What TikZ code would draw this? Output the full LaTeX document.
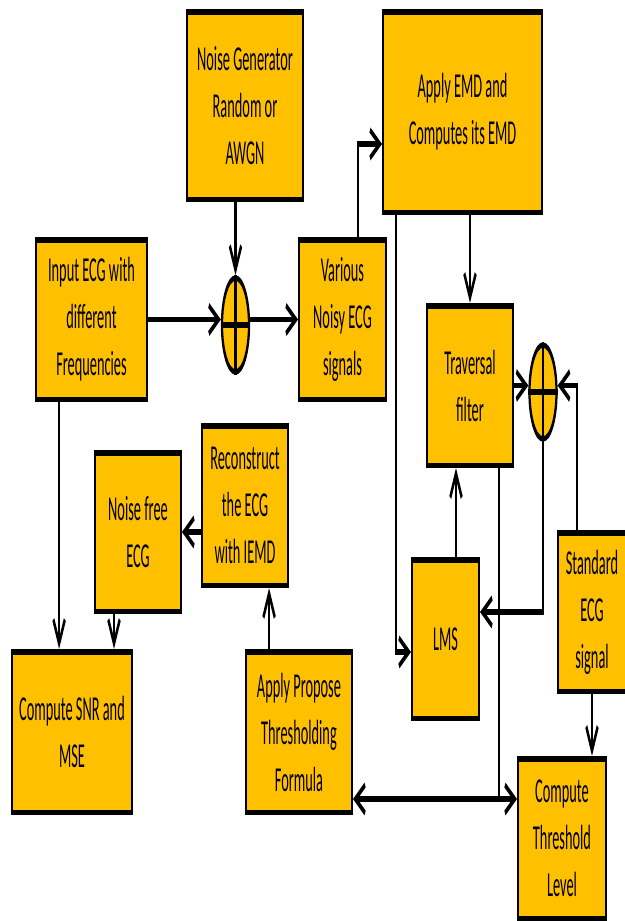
\documentclass[tikz,border=0pt]{standalone}
\usepackage{fontspec}
\setmainfont{Carlito}
\usetikzlibrary{arrows.meta,shapes.geometric}
\definecolor{boxgold}{HTML}{FFC000}

\begin{document}
\begin{tikzpicture}
    \useasboundingbox (0,0) rectangle (624pt,-921pt);
  \begin{scope}[x=2.439pt, y=-1pt, transform canvas={xscale=0.41},
      line width=5.5pt, >={Straight Barb[length=24pt,width=28pt]},
      block/.style={draw, fill=boxgold, align=center, inner sep=0pt,
        font=\fontsize{35}{47}\selectfont},
      adder/.style={draw, fill=boxgold, ellipse, inner sep=0pt,
        minimum width=66pt, minimum height=94pt}]
    % Blocks.
    \node [block, minimum width=282pt, minimum height=187.5pt] (noise) at (245,105.5) {Noise Generator\\Random or\\AWGN};
    \node [block, minimum width=270pt, minimum height=159.5pt] (input) at (91.5,319.5) {Input ECG with\\different\\Frequencies};
    \node [block, minimum width=211.5pt, minimum height=159.5pt] (noisy) at (342.5,319.5) {Various\\Noisy ECG\\signals};
    \node [block, minimum width=387pt, minimum height=200.5pt] (emd) at (462.5,112) {Apply EMD and\\Computes its EMD};
    \node [block, minimum width=209pt, minimum height=159.5pt] (filter) at (470,385.5) {Traversal\\filter};
    \node [block, minimum width=163pt, minimum height=158.5pt] (lms) at (445.5,639) {LMS};
    \node [block, minimum width=165pt, minimum height=158.5pt] (standard) at (592,612) {Standard\\ECG\\signal};
    \node [block, minimum width=214pt, minimum height=159.5pt] (threshold) at (562,838.5) {Compute\\Threshold\\Level};
    \node [block, minimum width=209pt, minimum height=159.5pt] (rebuild) at (245,505.5) {Reconstruct\\the ECG\\with IEMD};
    \node [block, minimum width=209pt, minimum height=158.5pt] (clean) at (138,532) {Noise free\\ECG};
    \node [block, minimum width=292pt, minimum height=160.5pt] (snr) at (72,732) {Compute SNR and\\MSE};
    \node [block, minimum width=258pt, minimum height=160.5pt] (propose) at (299,732) {Apply Propose\\Thresholding\\Formula};

    % Adders.
    \node [adder] (sumin) at (235.5,325) {};
    \node [adder] (sumerr) at (543,392) {};
    \draw (sumin.north) -- (sumin.south) (sumin.west) -- (sumin.east);
    \draw (sumerr.north) -- (sumerr.south) (sumerr.west) -- (sumerr.east);

    % Noisy signal path.
    \draw [->] (sumin |- noise.south) -- (sumin.north);
    \draw [->] (input.east) -- (sumin.west |- input.east);
    \draw [->] (sumin.east |- noisy.west) -- (noisy.west);
    \draw [->] ([xshift=38pt]noisy.north) |- ([yshift=-32pt]emd.west);

    % Adaptive filter loop.
    \draw [->] (filter.north |- emd.south) -- (filter.north);
    \draw [->] ([xshift=34pt]emd.south west) |- ([yshift=-13pt]lms.west);
    \draw [->] (filter.east) -- (sumerr.west |- filter.east);
    \draw [->] ([xshift=-37pt]standard.north) |- (sumerr.east |- filter.east);
    \draw [->] (sumerr.south) |- ([yshift=27pt]lms.east);
    \draw [->] ([xshift=25.6pt]lms.north) -- ([xshift=25.6pt]lms.north |- filter.south);

    % Thresholding.
    \draw [<->] ([yshift=-67pt]propose.east) -- ([yshift=-67pt]propose.east -| threshold.west);
    \draw ([xshift=71pt]filter.south) -- ([xshift=71pt,yshift=-67pt]filter.south |- propose.east);
    \draw [->] (standard.south) -- (standard.south |- threshold.north);
    \draw [->] ([xshift=-73pt]propose.north) -- ([xshift=-73pt]propose.north |- rebuild.south);

    % Output.
    \draw [->] (rebuild.west |- clean.east) -- (clean.east);
    \draw [->] ([xshift=-58.5pt]clean.south) -- ([xshift=-58.5pt]clean.south |- snr.north);
    \draw [->] ([xshift=-79pt]input.south) -- ([xshift=-79pt]input.south |- snr.north);
  \end{scope}
\end{tikzpicture}
\end{document}
